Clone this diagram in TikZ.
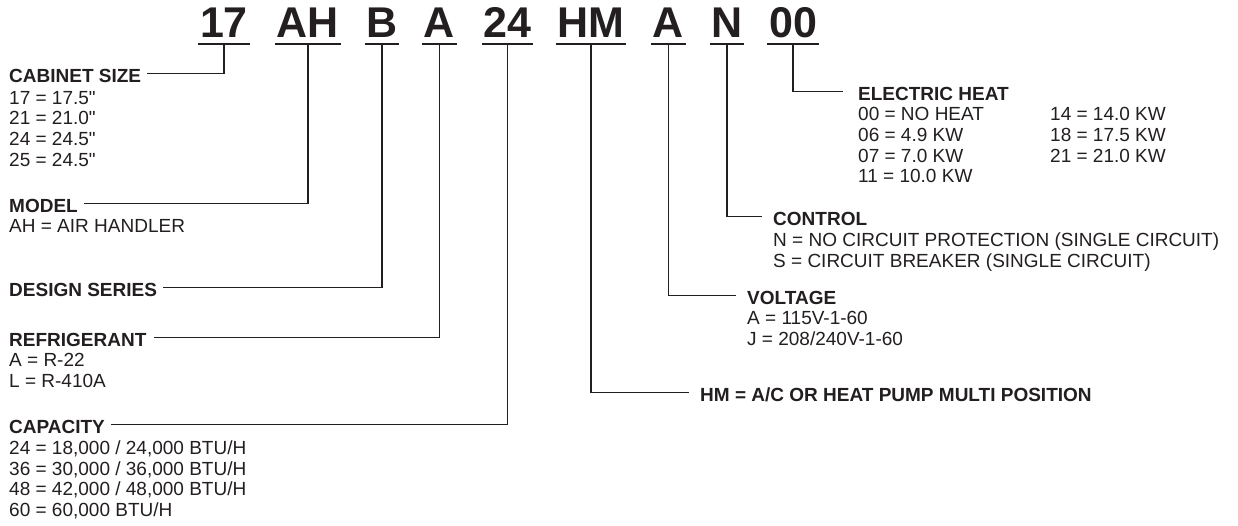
\documentclass[tikz,border=0pt]{standalone}
\usepackage{fontspec}
\setmainfont{Liberation Sans}
\newfontfamily\rawfont{Liberation Sans}
\definecolor{ink}{HTML}{231F20}
\newcommand{\inch}{{\rawfont\symbol{34}}}
\begin{document}
\begin{tikzpicture}[x=1pt,y=-1pt,
  code/.style={anchor=base,inner xsep=1.6pt,inner ysep=0pt,text depth=7pt,font=\fontsize{43}{43}\selectfont\bfseries,text=ink},
  ul/.style={line width=2pt,draw=ink},
  conn/.style={line width=1.1pt,draw=ink},
  head/.style={anchor=base west,inner sep=0pt,text height=17pt,text depth=0pt,font=\fontsize{19}{20.6}\selectfont\bfseries,text=ink},
  body/.style={anchor=north west,inner sep=0pt,align=left,font=\fontsize{19}{20.6}\selectfont,text=ink}]
\useasboundingbox[fill=white] (0,0) rectangle (1238,525);
% code letters
\node[code] (t17) at (224,37) {17};
\node[code] (tAH) at (308,37) {AH};
\node[code] (tB) at (382,37) {B};
\node[code] (tA) at (439.5,37) {A};
\node[code] (t24) at (507.5,37) {24};
\node[code] (tHM) at (591,37) {HM};
\node[code] (tV) at (668.5,37) {A};
\node[code] (tN) at (727,37) {N};
\node[code] (t00) at (793,37) {00};
\foreach \n in {t17,tAH,tB,tA,t24,tHM,tV,tN,t00}
  \draw[ul] (\n.south west) -- (\n.south east);
% left headings
\node[head] (cab) at (9,82) {CABINET SIZE};
\node[body] (cabb) at (9,91) {17 = 17.5\inch\\21 = 21.0\inch\\24 = 24.5\inch\\25 = 24.5\inch};
\node[head] (mod) at (9,212) {MODEL};
\node[body] (modb) at (9,219.5) {AH = AIR HANDLER};
\node[head] (des) at (9,296) {DESIGN SERIES};
\node[head] (ref) at (9,346) {REFRIGERANT};
\node[body] (refb) at (9,353.5) {A = R-22\\L = R-410A};
\node[head] (cap) at (9,433) {CAPACITY};
\node[body] (capb) at (9,440.5) {24 = 18,000 / 24,000 BTU/H\\36 = 30,000 / 36,000 BTU/H\\48 = 42,000 / 48,000 BTU/H\\60 = 60,000 BTU/H};
% right headings
\node[head] (eh) at (858,100) {ELECTRIC HEAT};
\node[body] (ehb) at (858,107.5) {00 = NO HEAT\\06 = 4.9 KW\\07 = 7.0 KW\\11 = 10.0 KW};
\node[body] (ehc) at (1050,107.5) {14 = 14.0 KW\\18 = 17.5 KW\\21 = 21.0 KW};
\node[head] (ctl) at (773,225) {CONTROL};
\node[body] (ctlb) at (773,232.5) {N = NO CIRCUIT PROTECTION (SINGLE CIRCUIT)\\S = CIRCUIT BREAKER (SINGLE CIRCUIT)};
\node[head] (vol) at (747,304) {VOLTAGE};
\node[body] (volb) at (747,311.5) {A = 115V-1-60\\J = 208/240V-1-60};
\node[head] (hm) at (700,401) {HM = A/C OR HEAT PUMP MULTI POSITION};
% connectors
\draw[conn] (t17.south) |- ([xshift=6pt]cab.east);
\draw[conn] (tAH.south) |- ([xshift=6pt]mod.east);
\draw[conn] (tB.south) |- ([xshift=6pt]des.east);
\draw[conn] (tA.south) |- ([xshift=7pt]ref.east);
\draw[conn] (t24.south) |- ([xshift=6pt]cap.east);
\draw[conn] (tHM.south) |- ([xshift=-11pt]hm.west);
\draw[conn] (tV.south) |- ([xshift=-11pt]vol.west);
\draw[conn] (tN.south) |- ([xshift=-11pt]ctl.west);
\draw[conn] (t00.south) |- ([xshift=-15pt]eh.west);
\end{tikzpicture}
\end{document}
